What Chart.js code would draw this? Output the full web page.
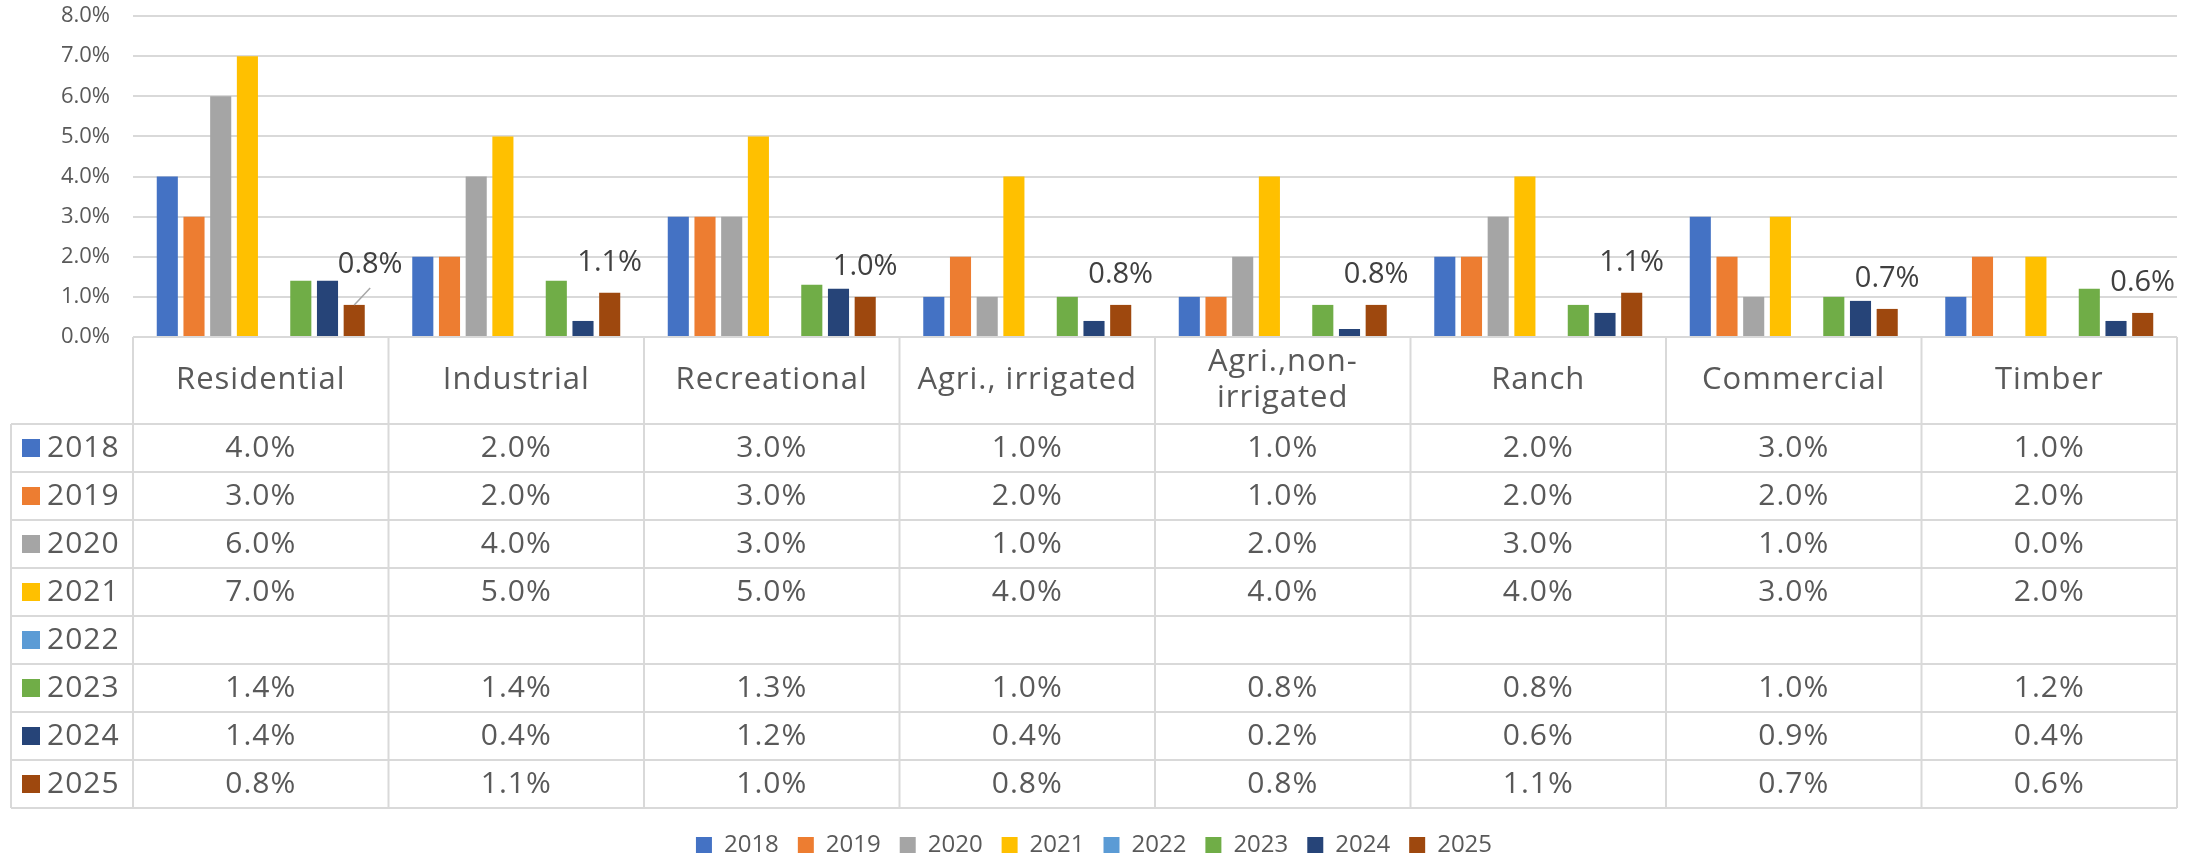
<!DOCTYPE html>
<html>
<head>
<meta charset="utf-8">
<script src="https://cdn.jsdelivr.net/npm/chart.js@4.4.1/dist/chart.umd.min.js"></script>
<style>
  body { margin: 0; background: #fff; }
  canvas { display: block; }
</style>
</head>
<body>
<canvas id="chart" width="2202" height="856"></canvas>
<script>
// categories and series (values in %)
const categories = ['Residential', 'Industrial', 'Recreational', 'Agri., irrigated', ['Agri.,non-', 'irrigated'], 'Ranch', 'Commercial', 'Timber'];
const years = ['2018', '2019', '2020', '2021', '2022', '2023', '2024', '2025'];
const v2018 = [4.0, 2.0, 3.0, 1.0, 1.0, 2.0, 3.0, 1.0];
const v2019 = [3.0, 2.0, 3.0, 2.0, 1.0, 2.0, 2.0, 2.0];
const v2020 = [6.0, 4.0, 3.0, 1.0, 2.0, 3.0, 1.0, 0.0];
const v2021 = [7.0, 5.0, 5.0, 4.0, 4.0, 4.0, 3.0, 2.0];
const v2022 = [null, null, null, null, null, null, null, null];
const v2023 = [1.4, 1.4, 1.3, 1.0, 0.8, 0.8, 1.0, 1.2];
const v2024 = [1.4, 0.4, 1.2, 0.4, 0.2, 0.6, 0.9, 0.4];
const v2025 = [0.8, 1.1, 1.0, 0.8, 0.8, 1.1, 0.7, 0.6];
const yMax = 8;
const yStep = 1;

const colors = ['#4472C4', '#ED7D31', '#A5A5A5', '#FFC000', '#5B9BD5', '#70AD47', '#264478', '#9E480E'];
const series = [v2018, v2019, v2020, v2021, v2022, v2023, v2024, v2025];

const fmt = (v) => (v == null ? '' : v.toFixed(1) + '%');
const FONT = "'Open Sans', 'Noto Sans', sans-serif";

// data table under the plot, laid out from the x scale
const dataTable = {
  id: 'dataTable',
  afterDraw(chart) {
    const { ctx, chartArea } = chart;
    const x = chart.scales.x;
    const n = categories.length;
    const colW = (x.right - x.left) / n;
    const top = chartArea.bottom;
    const headH = 87;
    const rowH = 48;
    const keyLeft = 11;
    const bottom = top + headH + rowH * years.length;

    ctx.save();
    ctx.strokeStyle = '#d9d9d9';
    ctx.lineWidth = 2;
    ctx.beginPath();
    // top line of header
    ctx.moveTo(x.left, top);
    ctx.lineTo(x.right, top);
    // row lines
    for (let r = 0; r <= years.length; r++) {
      const y = top + headH + r * rowH;
      ctx.moveTo(keyLeft, y);
      ctx.lineTo(x.right, y);
    }
    // column lines
    for (let c = 0; c <= n; c++) {
      const cx = x.left + c * colW;
      ctx.moveTo(cx, top);
      ctx.lineTo(cx, bottom);
    }
    ctx.moveTo(keyLeft, top + headH);
    ctx.lineTo(keyLeft, bottom);
    ctx.stroke();

    ctx.fillStyle = '#595959';
    ctx.textBaseline = 'middle';
    ctx.letterSpacing = '1px';

    // header labels
    ctx.textAlign = 'center';
    ctx.font = '31px ' + FONT;
    categories.forEach((label, i) => {
      const cx = x.getPixelForValue(i);
      const lines = Array.isArray(label) ? label : [label];
      const lh = 36;
      const y0 = top + headH / 2 - ((lines.length - 1) * lh) / 2;
      lines.forEach((line, k) => ctx.fillText(line, cx, y0 + k * lh));
    });
    ctx.font = '30px ' + FONT;

    // rows
    years.forEach((yr, r) => {
      const cy = top + headH + r * rowH + rowH / 2;
      ctx.fillStyle = colors[r];
      ctx.fillRect(22, cy - 9, 18, 18);
      ctx.fillStyle = '#595959';
      ctx.textAlign = 'left';
      ctx.fillText(yr, 47, cy);
      ctx.textAlign = 'center';
      series[r].forEach((v, i) => {
        ctx.fillText(fmt(v), x.getPixelForValue(i), cy);
      });
    });
    ctx.restore();
  }
};

// value labels on the 2025 bars
const lastLabels = {
  id: 'lastLabels',
  afterDatasetsDraw(chart) {
    const { ctx } = chart;
    const di = years.length - 1;
    const meta = chart.getDatasetMeta(di);
    ctx.save();
    ctx.font = '29px ' + FONT;
    ctx.fillStyle = '#404040';
    ctx.textAlign = 'center';
    ctx.textBaseline = 'middle';
    meta.data.forEach((bar, i) => {
      let lx = bar.x;
      let ly = bar.y - 30;
      if (i === 0) {
        // moved label with leader line
        lx = bar.x + 16;
        ly = bar.y - 40;
        ctx.strokeStyle = '#a6a6a6';
        ctx.lineWidth = 1.5;
        ctx.beginPath();
        ctx.moveTo(bar.x, bar.y);
        ctx.lineTo(bar.x + 16, bar.y - 17);
        ctx.stroke();
      }
      ctx.fillText(fmt(series[di][i]), lx, ly);
    });
    ctx.restore();
  }
};

// push the legend down to the canvas foot
const legendShift = {
  id: 'legendShift',
  afterLayout(chart) {
    chart.legend.top += 11;
    chart.legend.bottom += 11;
  }
};

new Chart(document.getElementById('chart'), {
  type: 'bar',
  data: {
    labels: categories,
    datasets: years.map((yr, i) => ({
      label: yr,
      data: series[i],
      backgroundColor: colors[i],
      categoryPercentage: 0.836,
      barPercentage: 0.79
    }))
  },
  options: {
    responsive: false,
    animation: false,
    devicePixelRatio: 1,
    layout: { padding: { left: 11, right: 25, top: 16, bottom: 0 } },
    scales: {
      x: {
        grid: { display: false },
        border: { display: false },
        ticks: { display: false },
        afterFit: (s) => { s.height = 466; }
      },
      y: {
        min: 0,
        max: yMax,
        ticks: {
          stepSize: yStep,
          padding: 23,
          color: '#595959',
          font: { size: 22, family: FONT },
          callback: (v) => v.toFixed(1) + '%'
        },
        grid: { color: '#d9d9d9', lineWidth: 2, drawTicks: false },
        border: { display: false },
        afterFit: (s) => {
          s.width = 122;
          s.paddingTop = 0;
          s.paddingBottom = 0;
        }
      }
    },
    plugins: {
      legend: {
        position: 'bottom',
        labels: {
          boxWidth: 16,
          boxHeight: 16,
          padding: 19,
          color: '#595959',
          font: { size: 24, family: FONT }
        }
      },
      tooltip: { enabled: false }
    }
  },
  plugins: [dataTable, lastLabels, legendShift]
});
</script>
</body>
</html>
